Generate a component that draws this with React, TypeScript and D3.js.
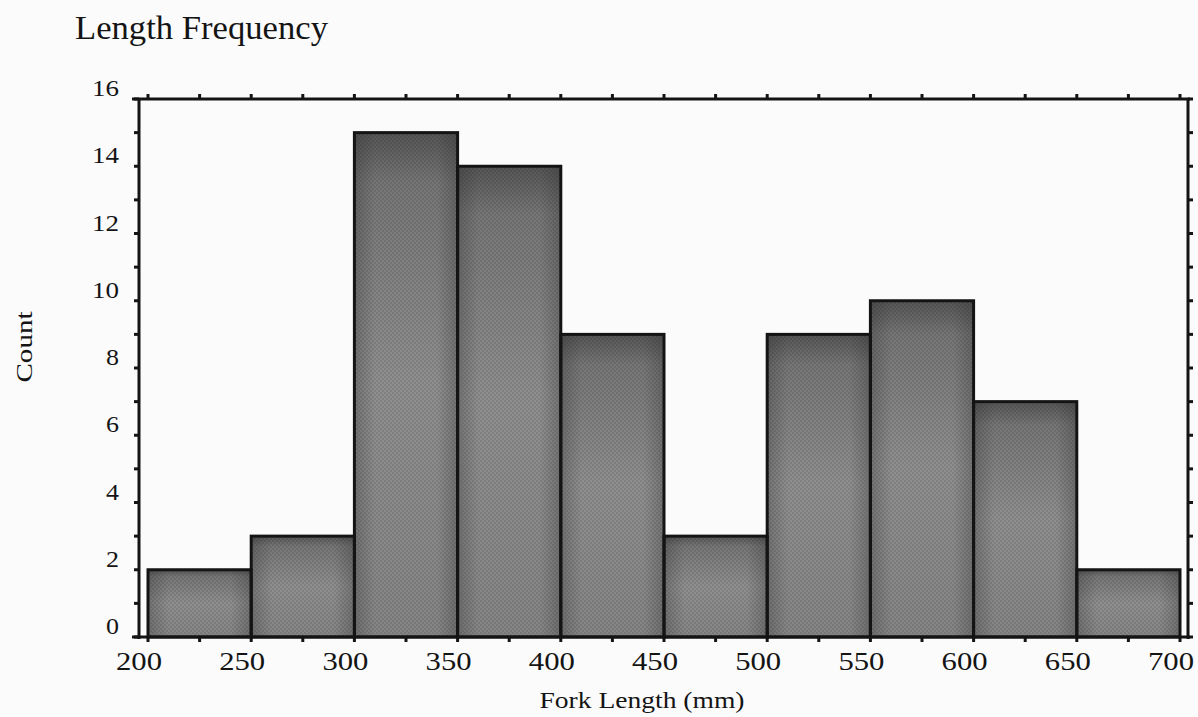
import React from "react";
import * as d3 from "d3";

const binEdges = [200, 250, 300, 350, 400, 450, 500, 550, 600, 650, 700];
const counts = [2, 3, 15, 14, 9, 3, 9, 10, 7, 2];
const xTickLabels = ["200", "250", "300", "350", "400", "450", "500", "550", "600", "650", "700"];
const yTickLabels = ["0", "2", "4", "6", "8", "10", "12", "14", "16"];
const titleText = "Length Frequency";
const xTitle = "Fork Length (mm)";
const yTitle = "Count";

const W = 1198;
const H = 717;

export default function App() {
  const x = d3.scaleLinear().domain([200, 700]).range([148, 1180]);
  const y = d3.scaleLinear().domain([0, 16]).range([637, 99]);
  const left = 139;
  const right = 1188;
  const top = y(16);
  const bottom = y(0);
  const minorX = d3.range(200, 701, 25);
  const minorY = d3.range(0, 17, 1);
  const font = "'Liberation Serif', 'Times New Roman', serif";
  const ink = "#141414";

  return (
    <svg width={W} height={H} style={{ position: "absolute", left: 0, top: 0, background: "#fbfbfb" }}>
      <defs>
        <linearGradient id="gv" x1="0" y1="0" x2="0" y2="1">
          <stop offset="0" stopColor="#555555" />
          <stop offset="0.1" stopColor="#767676" />
          <stop offset="0.5" stopColor="#8f8f8f" />
          <stop offset="1" stopColor="#858585" />
        </linearGradient>
        <linearGradient id="gh" x1="0" y1="0" x2="1" y2="0">
          <stop offset="0" stopColor="#303030" stopOpacity="0.3" />
          <stop offset="0.2" stopColor="#303030" stopOpacity="0" />
          <stop offset="0.8" stopColor="#303030" stopOpacity="0" />
          <stop offset="1" stopColor="#303030" stopOpacity="0.3" />
        </linearGradient>
        <pattern id="dots" width="4" height="4" patternUnits="userSpaceOnUse">
          <rect x="0" y="0" width="2" height="2" fill="#000" opacity="0.1" />
          <rect x="2" y="2" width="2" height="2" fill="#000" opacity="0.1" />
        </pattern>
      </defs>

      {/* title */}
      <text x={75} y={39} fontFamily={font} fontSize={34} fill={ink} textLength={253} lengthAdjust="spacingAndGlyphs">
        {titleText}
      </text>

      {/* bars */}
      {counts.map((c, i) => {
        const x0 = x(binEdges[i]);
        const x1 = x(binEdges[i + 1]);
        const yt = y(c);
        return (
          <g key={i}>
            <rect x={x0} y={yt} width={x1 - x0} height={bottom - yt} fill="url(#gv)" />
            <rect x={x0} y={yt} width={x1 - x0} height={bottom - yt} fill="url(#gh)" />
            <rect x={x0} y={yt} width={x1 - x0} height={bottom - yt} fill="url(#dots)" />
          </g>
        );
      })}
      {counts.map((c, i) => {
        const x0 = x(binEdges[i]);
        const x1 = x(binEdges[i + 1]);
        const yt = y(c);
        return (
          <rect key={"o" + i} x={x0} y={yt} width={x1 - x0} height={bottom - yt} fill="none" stroke={ink} strokeWidth={3} />
        );
      })}

      {/* frame */}
      <line x1={left - 7} x2={right + 2} y1={top} y2={top} stroke={ink} strokeWidth={3} />
      <line x1={left - 7} x2={right + 2} y1={bottom} y2={bottom} stroke={ink} strokeWidth={3} />
      <line x1={left} x2={left} y1={top} y2={bottom + 2} stroke={ink} strokeWidth={3} />
      <line x1={right} x2={right} y1={top} y2={bottom + 2} stroke={ink} strokeWidth={3} />

      {/* x ticks */}
      {minorX.map((v) => (
        <g key={"xt" + v}>
          <line x1={x(v)} x2={x(v)} y1={bottom} y2={bottom + 5} stroke={ink} strokeWidth={3} />
          <line x1={x(v)} x2={x(v)} y1={top} y2={top - 5} stroke={ink} strokeWidth={3} />
        </g>
      ))}
      {/* y ticks */}
      {minorY.map((v) => (
        <g key={"yt" + v}>
          <line x1={left} x2={left - 5} y1={y(v)} y2={y(v)} stroke={ink} strokeWidth={3} />
          <line x1={right} x2={right + 5} y1={y(v)} y2={y(v)} stroke={ink} strokeWidth={3} />
        </g>
      ))}

      {/* x tick labels */}
      {xTickLabels.map((t) => (
        <text key={"xl" + t} x={x(+t) - 9} y={670} textAnchor="middle" fontFamily={font} fontSize={26} fill={ink}
          textLength={46} lengthAdjust="spacingAndGlyphs">
          {t}
        </text>
      ))}
      {/* y tick labels */}
      {yTickLabels.map((t) => (
        <text key={"yl" + t} x={119} y={y(+t) - 3} textAnchor="end" fontFamily={font} fontSize={24} fill={ink}
          textLength={t.length === 1 ? 13 : 27} lengthAdjust="spacingAndGlyphs">
          {t}
        </text>
      ))}

      {/* axis titles */}
      <text x={642} y={708} textAnchor="middle" fontFamily={font} fontSize={24} fill={ink} textLength={205} lengthAdjust="spacingAndGlyphs">
        {xTitle}
      </text>
      <text transform={`translate(32,347) rotate(-90)`} textAnchor="middle" fontFamily={font} fontSize={24} fill={ink}
        textLength={71} lengthAdjust="spacingAndGlyphs">
        {yTitle}
      </text>
    </svg>
  );
}
